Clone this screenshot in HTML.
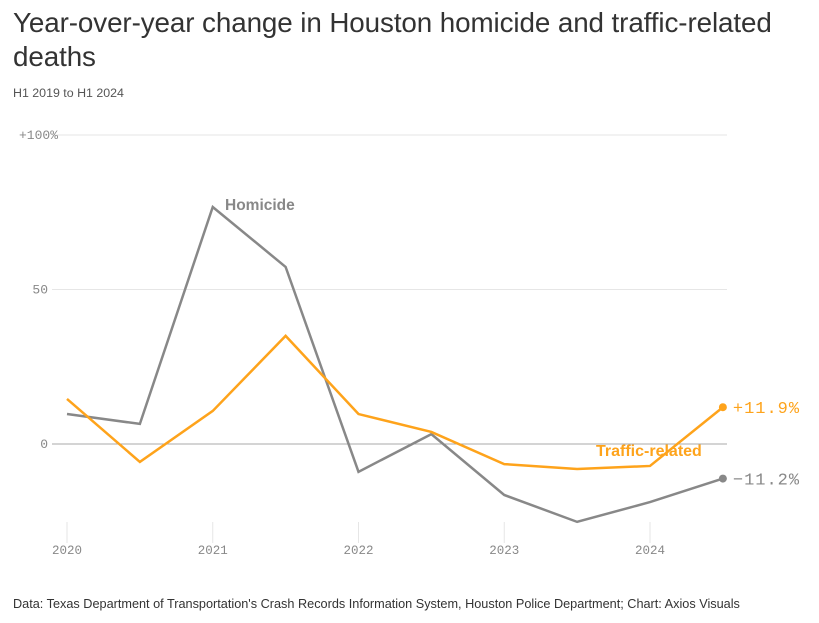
<!DOCTYPE html>
<html><head><meta charset="utf-8"><style>
body{margin:0;background:#fff;width:819px;height:623px;overflow:hidden;font-family:"Liberation Sans",sans-serif}
h1{position:absolute;left:13px;top:6px;margin:0;font-weight:400;font-size:27.8px;line-height:34px;color:#333;width:800px;letter-spacing:-0.1px}
.sub{position:absolute;left:13px;top:86px;font-size:12.4px;color:#555}
.src{position:absolute;left:13px;top:597px;font-size:12.7px;color:#333}
svg{position:absolute;left:0;top:0}
</style></head><body>
<h1>Year-over-year change in Houston homicide and traffic-related deaths</h1>
<div class="sub">H1 2019 to H1 2024</div>
<div class="src">Data: Texas Department of Transportation's Crash Records Information System, Houston Police Department; Chart: Axios Visuals</div>
<svg id="c" width="819" height="623"></svg>
<script>
const periods=[2020,2020.5,2021,2021.5,2022,2022.5,2023,2023.5,2024,2024.5];
const homicide=[9.7,6.5,76.7,57.3,-9,3.2,-16.5,-25.2,-18.8,-11.2];
const traffic=[14.6,-5.8,10.7,35,9.7,3.9,-6.5,-8.1,-7.1,11.9];
const yTicks=[0,50,100];
const yTickLabels=["0","50","+100%"];
const xTicks=[2020,2021,2022,2023,2024];
const x=v=>67+(v-2020)*145.75;
const y=v=>444-v*3.09;
const s=document.getElementById('c');const N='http://www.w3.org/2000/svg';
function mk(t,a,txt){const e=document.createElementNS(N,t);for(const k in a)e.setAttribute(k,a[k]);if(txt!=null)e.textContent=txt;s.appendChild(e);return e;}
yTicks.forEach((t,i)=>{
const g=mk('line',{x1:52,x2:727,y1:y(t),y2:y(t),stroke:t===0?'#aaa':'#e6e6e6','stroke-width':1});


const l=mk('text',{x:t===100?58:48,y:y(t)+4,'text-anchor':'end','font-family':'Liberation Mono, monospace','font-size':13,fill:'#888'},yTickLabels[i]);


});
xTicks.forEach(t=>{
const k=mk('line',{x1:x(t),x2:x(t),y1:522,y2:543,stroke:'#e6e6e6','stroke-width':1});


const l=mk('text',{x:x(t),y:554,'text-anchor':'middle','font-family':'Liberation Mono, monospace','font-size':12.5,fill:'#888'},String(t));


});
function series(vals,col,name){
const p=mk('polyline',{points:vals.map((v,i)=>x(periods[i])+','+y(v)).join(' '),fill:'none',stroke:col,'stroke-width':2.5,'stroke-linejoin':'miter'});


const n=vals.length-1;
const d=mk('circle',{cx:x(periods[n]),cy:y(vals[n]),r:4,fill:col});


const v=vals[n];
const l=mk('text',{x:x(periods[n])+10,y:y(v)+6,'font-family':'Liberation Mono, monospace','font-size':17,'letter-spacing':1,fill:col},(v>0?'+':'\u2212')+Math.abs(v).toFixed(1)+'%');


}
series(homicide,'#888','homicide');
series(traffic,'#fea31b','traffic');
const a=mk('text',{x:225,y:210,'font-size':15.5,'font-weight':'bold',fill:'#888'},'Homicide');


const b=mk('text',{x:596,y:456,'font-size':16,'font-weight':'bold',fill:'#fea31b'},'Traffic-related');


</script>
</body></html>
